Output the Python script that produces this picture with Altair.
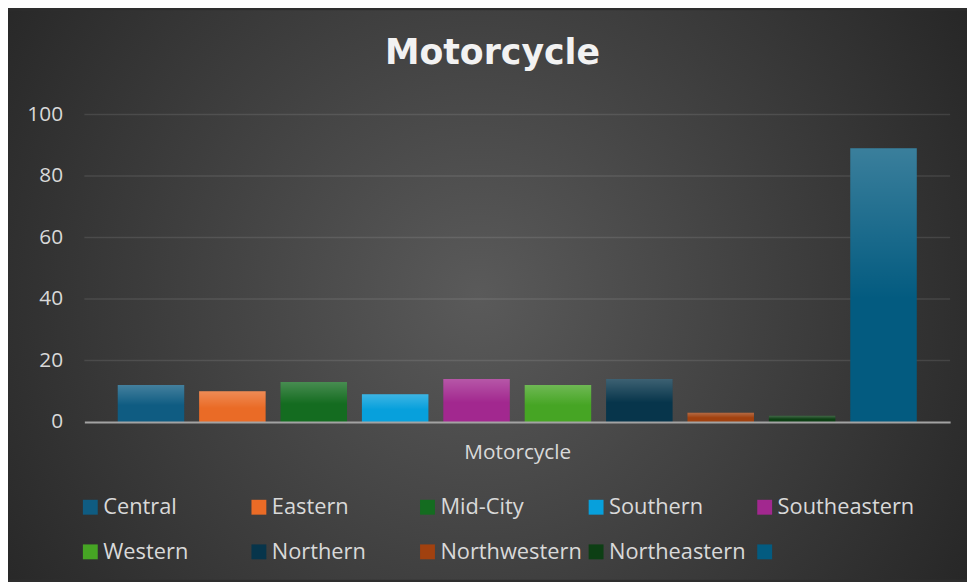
import altair as alt
import pandas as pd

TITLE = "Motorcycle"
AXIS_TITLE = "Motorcycle"
REGIONS = ["Central", "Eastern", "Mid-City", "Southern", "Southeastern",
           "Western", "Northern", "Northwestern", "Northeastern", ""]
VALUES = [12, 10, 13, 9, 14, 12, 14, 3, 2, 89]
COLORS = ["#0f5c82", "#ea6b26", "#146c20", "#07a0dc", "#a2288f",
          "#46a524", "#07354b", "#a1410f", "#0d3f14", "#035b80"]
YTICKS = [0, 20, 40, 60, 80, 100]

W, H = 873, 310
PAD = {"left": 77, "top": 105, "right": 17, "bottom": 159}
FONT = "Open Sans"
TXT = "#d9d9d9"

df = pd.DataFrame({"region": REGIONS, "value": VALUES})
grid_df = pd.DataFrame({"value": YTICKS[1:]})
title_df = pd.DataFrame({"t": [TITLE]})
one = pd.DataFrame({"a": [0]})

yscale = alt.Scale(domain=[YTICKS[0], YTICKS[-1]], nice=False)
y_enc = alt.Y("value:Q", scale=yscale,
              axis=alt.Axis(values=YTICKS, grid=False, ticks=False, domain=False,
                            labelColor=TXT, labelFontSize=21, labelFont=FONT,
                            labelPadding=22, title=None, zindex=1))
x_enc = alt.X("region:N", sort=REGIONS,
              scale=alt.Scale(domain=REGIONS, paddingInner=0.183, paddingOuter=0.41),
              axis=alt.Axis(title=AXIS_TITLE, labels=False, ticks=False,
                            domainColor="#a3a3a3", domainWidth=2,
                            titleColor=TXT, titleFontSize=21, titleFont=FONT,
                            titleFontWeight="normal", titlePadding=20, zindex=1))

bg = alt.Chart(one).mark_rect(
    fill={"gradient": "radial", "x1": 0.49, "y1": 0.5, "r1": 0,
          "x2": 0.49, "y2": 0.5, "r2": 0.6,
          "stops": [{"offset": 0, "color": "#5a5a5a"},
                    {"offset": 1, "color": "#262626"}]}
).encode(x=alt.value(-PAD["left"]), x2=alt.value(W + PAD["right"]),
         y=alt.value(-PAD["top"]), y2=alt.value(H + PAD["bottom"]))

grid = alt.Chart(grid_df).mark_rule(color="white", opacity=0.1, strokeWidth=1.5).encode(y=y_enc)

bars = alt.Chart(df).mark_bar().encode(
    x=x_enc, y=y_enc,
    color=alt.Color("region:N", sort=REGIONS,
                    scale=alt.Scale(domain=REGIONS, range=COLORS),
                    legend=alt.Legend(title=None, orient="none", legendX=-5, legendY=385,
                                      direction="horizontal", columns=5, gridAlign="all",
                                      symbolType="square", symbolSize=225,
                                      symbolStrokeWidth=0, symbolOpacity=1,
                                      labelFont=FONT, labelFontSize=22, labelColor=TXT,
                                      labelOffset=2, columnPadding=3, rowPadding=23,
                                      padding=0, labelLimit=300)))

overlay = alt.Chart(df).mark_bar(
    fill={"gradient": "linear", "x1": 0, "y1": 0, "x2": 0, "y2": 1,
          "stops": [{"offset": 0, "color": "rgba(255,255,255,0.22)"},
                    {"offset": 0.55, "color": "rgba(255,255,255,0)"}]}
).encode(x=x_enc, y=y_enc)

title = alt.Chart(title_df).mark_text(
    font="DejaVu Sans", fontSize=35, fontWeight="bold", color="#f2f2f2",
    align="center", baseline="alphabetic"
).encode(text="t:N", x=alt.value(411.5), y=alt.value(-51))

chart = alt.layer(bg, grid, bars, overlay, title).properties(
    width=W, height=H, padding=PAD, autosize=alt.AutoSizeParams(type="none"),
    background="#2e2e2e"
).configure_view(stroke=None)

chart.save("out.html", embed_options={"renderer": "svg", "actions": False})
